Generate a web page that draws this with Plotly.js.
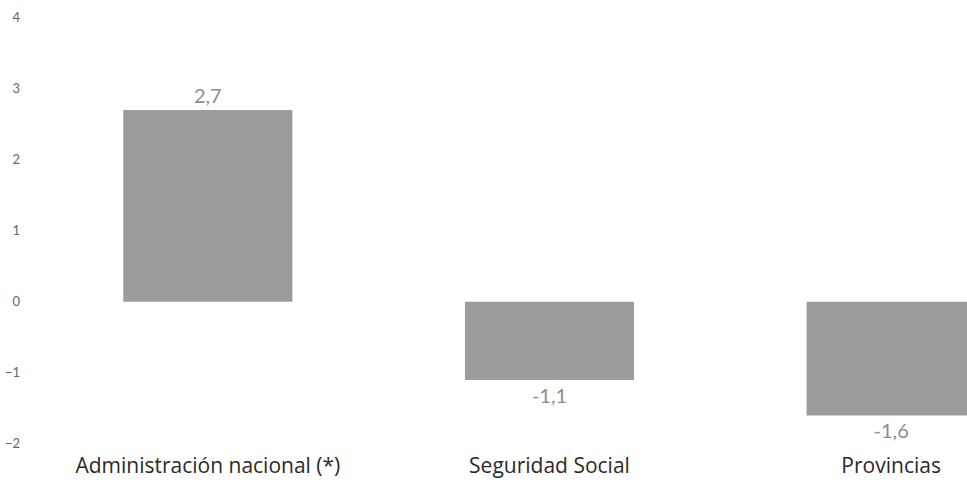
<!DOCTYPE html>
<html>
<head>
<meta charset="utf-8">
<script src="https://cdn.plot.ly/plotly-3.0.1.min.js"></script>
<style>html,body{margin:0;padding:0;background:#fff;}#chart{width:967px;height:496px;}</style>
</head>
<body>
<div id="chart"></div>
<script>
const categories = ["Administración nacional (*)", "Seguridad Social", "Provincias"];
const values = [2.7, -1.1, -1.6];
const yTicks = [-2, -1, 0, 1, 2, 3, 4];

const trace = {
  type: 'bar',
  x: categories,
  y: values,
  width: 0.495,
  marker: { color: '#9c9c9c', line: { width: 0 } },
  texttemplate: '%{y:.1f}',
  textposition: 'outside',
  cliponaxis: false,
  textfont: { family: 'Lato, "Open Sans", sans-serif', size: 20, color: '#8e8e8e' },
  hoverinfo: 'skip'
};

const layout = {
  width: 967, height: 496,
  margin: { l: 37, r: 0, t: 0, b: 45 },
  paper_bgcolor: '#fff', plot_bgcolor: '#fff',
  separators: ',.',
  showlegend: false,
  bargap: 0.5,
  xaxis: {
    type: 'category',
    range: [-0.5, 2.222],
    showgrid: false, zeroline: false, showline: false, ticks: '',
    tickfont: { family: '"Open Sans", Lato, sans-serif', size: 21, color: '#2a2a2a' }
  },
  yaxis: {
    range: [-2.1, 4.25],
    tickvals: yTicks,
    showgrid: false, zeroline: false, showline: false, ticks: '',
    ticklabelstandoff: 16,
    tickfont: { family: 'Lato, "Open Sans", sans-serif', size: 13, color: '#666' }
  }
};

Plotly.newPlot('chart', [trace], layout, { displayModeBar: false, staticPlot: true });
</script>
</body>
</html>
